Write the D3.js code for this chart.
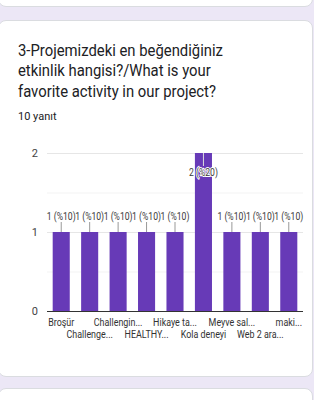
<!DOCTYPE html>
<html>
    <head>
        <meta charset="utf-8">
        <title>Favorite activity</title>
        <style>
            html, body { margin: 0; padding: 0; width: 314px; height: 400px; overflow: hidden; background: #ece7f6; }
            .card { position: absolute; left: -2px; width: 315px; background: #fff; border: 1px solid #dadce0; border-radius: 8px; box-sizing: border-box; }
            svg { position: absolute; left: 0; top: 0; }
            text { font-family: Roboto, "Noto Sans", sans-serif; }
        </style>
        <script src="https://d3js.org/d3.v7.min.js"></script>
    </head>
    <body>
        <div class="card" style="top:-20px;height:27px;"></div>
        <div class="card" style="top:20px;height:357px;"></div>
        <div class="card" style="top:388px;height:40px;"></div>
        <script type="text/javascript">
            var categories = ["Broşür", "Challenge...", "Challengin...", "HEALTHY...", "Hikaye ta...",
                              "Kola deneyi", "Meyve sal...", "Web 2 ara...", "maki..."];
            var counts = [1, 1, 1, 1, 1, 2, 1, 1, 1];
            var labels = ["1 (%10)", "1 (%10)", "1 (%10)", "1 (%10)", "1 (%10)",
                          "2 (%20)", "1 (%10)", "1 (%10)", "1 (%10)"];
            var yTicks = [0, 1, 2];
            var titleLines = ["3-Projemizdeki en beğendiğiniz", "etkinlik hangisi?/What is your",
                              "favorite activity in our project?"];
            var subtitle = "10 yanıt";

            var w = 314, h = 400;
            var vis = d3.select("body").append("svg")
                .attr("width", w)
                .attr("height", h);

            vis.selectAll(".title")
                .data(titleLines)
                .enter()
                .append("text")
                .attr("class", "title")
                .attr("transform", (d, i) => "translate(18," + (55.5 + i * 20.7) + ") scale(0.9,1)")
                .attr("font-size", "16.5px")
                .attr("fill", "#202124")
                .text(d => d);

            vis.append("text")
                .attr("x", 18)
                .attr("y", 120)
                .attr("font-size", "11px")
                .attr("fill", "#202124")
                .text(subtitle);

            var plotL = 47, plotR = 303, plotT = 153, plotB = 311;
            var x = d3.scaleBand()
                .domain(categories)
                .range([plotL, plotR])
                .paddingInner(0.4)
                .paddingOuter(0.2);
            var y = d3.scaleLinear()
                .domain([0, 2])
                .range([plotB, plotT]);
            var cx = (d, i) => x(categories[i]) + x.bandwidth() / 2;

            // minor and major gridlines
            vis.selectAll(".minor")
                .data([0.5, 1.5])
                .enter()
                .append("line")
                .attr("x1", plotL).attr("x2", plotR)
                .attr("y1", d => y(d) + 0.5).attr("y2", d => y(d) + 0.5)
                .style("stroke", "#f3f3f3");
            vis.selectAll(".grid")
                .data([1, 2])
                .enter()
                .append("line")
                .attr("x1", plotL).attr("x2", plotR)
                .attr("y1", d => y(d) + 0.5).attr("y2", d => y(d) + 0.5)
                .style("stroke", "#e6e6e6");

            vis.selectAll(".ytick")
                .data(yTicks)
                .enter()
                .append("text")
                .attr("x", 38)
                .attr("y", d => y(d) + 4)
                .attr("text-anchor", "end")
                .attr("font-size", "11px")
                .attr("fill", "#444")
                .text(d => d);

            vis.selectAll(".bar")
                .data(counts)
                .enter()
                .append("rect")
                .attr("x", (d, i) => x(categories[i]))
                .attr("y", d => y(d))
                .attr("width", x.bandwidth())
                .attr("height", d => plotB - y(d))
                .attr("fill", "#673ab7");

            vis.append("line")
                .attr("x1", plotL).attr("x2", plotR)
                .attr("y1", plotB + 0.5).attr("y2", plotB + 0.5)
                .style("stroke", "#333");

            // connectors from the value labels to the bar tops
            vis.selectAll(".conn")
                .data(counts)
                .enter()
                .append("line")
                .attr("x1", cx)
                .attr("x2", cx)
                .attr("y1", d => d === 2 ? y(d) : y(d) - 10)
                .attr("y2", d => d === 2 ? y(d) + 13 : y(d))
                .style("stroke", d => d === 2 ? "#ddd" : "#999");

            vis.selectAll(".val")
                .data(labels)
                .enter()
                .append("text")
                .attr("transform", (d, i) => "translate(" + cx(d, i) + "," +
                    (counts[i] === 2 ? y(2) + 23 : y(counts[i]) - 12) + ") scale(0.82,1)")
                .attr("text-anchor", "middle")
                .attr("font-size", "10.5px")
                .attr("fill", "#3c3c3c")
                .attr("stroke", (d, i) => counts[i] === 2 ? "#fff" : "none")
                .attr("stroke-width", 2)
                .attr("paint-order", "stroke")
                .text(d => d);

            vis.selectAll(".xlab")
                .data(categories)
                .enter()
                .append("text")
                .attr("transform", (d, i) => "translate(" + cx(d, i) + "," +
                    (i % 2 === 0 ? 326 : 337.5) + ") scale(0.85,1)")
                .attr("text-anchor", "middle")
                .attr("font-size", "10.5px")
                .attr("fill", "#333")
                .text(d => d);
        </script>
    </body>
</html>
